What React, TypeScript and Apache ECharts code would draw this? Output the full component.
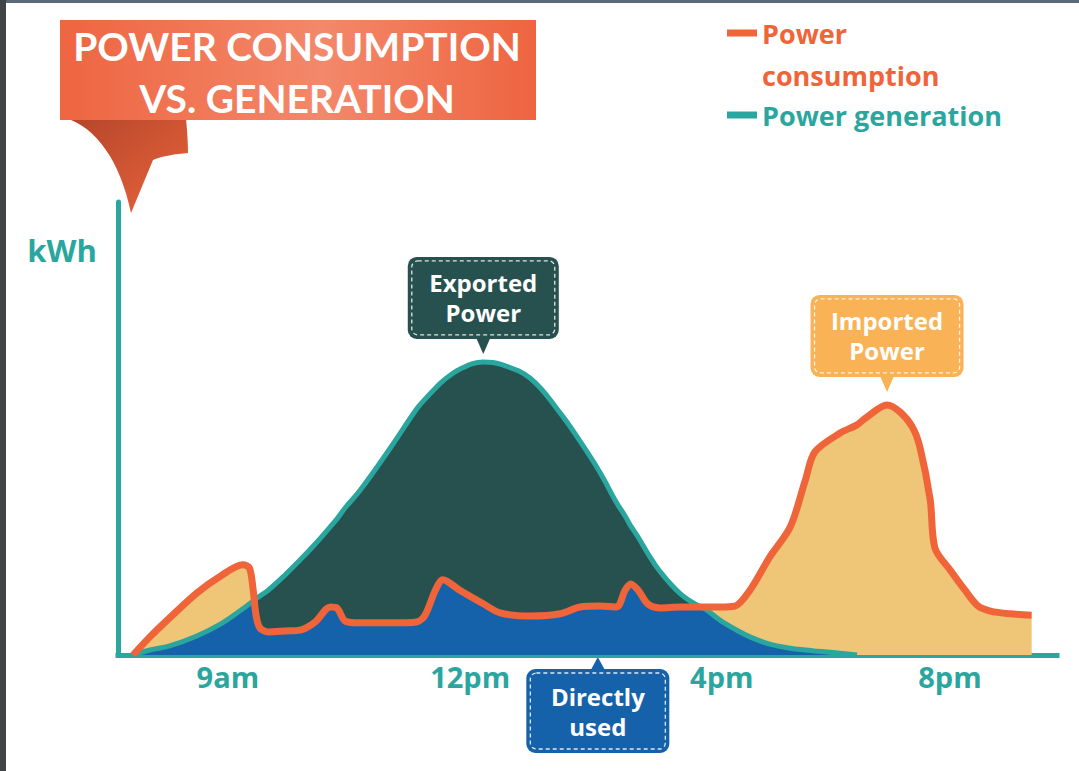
import React, { useEffect, useRef } from "react";
import * as echarts from "echarts";

// ---- data (x = relative time position along the day, y = kWh, arbitrary units) ----
const positions = [1.6, 3.4, 5.5, 8.4, 10.9, 13.3, 14.0, 14.4, 14.7, 15.1, 16.0, 17.8, 19.4, 21.0, 22.6, 23.3, 24.2, 25.8, 29.0, 31.8, 32.7, 33.8, 34.6, 36.4, 38.9, 40.7, 43.9, 47.1, 49.2, 51.3, 53.1, 54.0, 54.6, 55.4, 56.4, 57.7, 59.9, 62.0, 62.5, 64.1, 65.7, 67.3, 69.4, 71.6, 73.2, 74.2, 76.9, 78.7, 79.6, 81.9, 83.3, 84.6, 85.4, 86.5, 87.0, 88.6, 90.2, 91.6, 92.9, 95.0, 97.3];
const consumption = [0, 4.0, 8.2, 13.7, 17.4, 19.9, 19.2, 14.3, 8.8, 6.0, 5.1, 5.3, 5.5, 7.3, 10.6, 10.4, 7.5, 7.1, 7.1, 7.3, 8.8, 14.3, 16.6, 14.3, 11.3, 9.3, 8.6, 9.1, 10.6, 10.8, 10.6, 14.3, 15.7, 14.3, 11.3, 10.4, 10.6, 10.6, 10.6, 10.6, 10.8, 14.3, 21.6, 28.3, 38.6, 44.8, 49.0, 50.8, 52.3, 55.2, 53.6, 50.3, 45.9, 34.2, 23.6, 18.8, 14.3, 10.8, 9.7, 9.1, 8.8];
const generation: (number | null)[] = [0, 1.1, 2.0, 4.2, 6.8, 10.2, 11.3, 11.9, 12.4, 13.0, 14.3, 17.7, 21.0, 24.5, 28.3, 30.0, 32.5, 36.4, 45.7, 54.3, 56.5, 58.9, 60.5, 63.1, 64.7, 64.2, 61.1, 53.4, 47.2, 40.4, 33.6, 30.7, 28.5, 26.0, 22.5, 18.5, 13.5, 10.6, 10.2, 7.7, 5.7, 4.0, 2.4, 1.5, 1.1, 0.9, 0.4, 0, null, null, null, null, null, null, null, null, null, null, null, null, null];
const timeTicks = [11.7, 37.5, 64.3, 88.6];
const timeLabels = ["9am", "12pm", "4pm", "8pm"];
const seriesNames = ["Power consumption", "Power generation"];
const calloutTexts = ["Exported\nPower", "Imported\nPower", "Directly\nused"];
const directlyUsedAt = [51.1, 0];

const C = {
  teal: "#2AA69F",
  orange: "#F0643A",
  darkGreen: "#27514F",
  blue: "#1662AA",
  yellow: "#EFC578",
  importBox: "#FAB256",
};

let shapeRegistered = false;
function registerShapes() {
  if (shapeRegistered) return;
  shapeRegistered = true;
  echarts.graphic.registerShape(
    "titleTail",
    echarts.graphic.extendPath(
      "M66,118 C96,128 120,160 131,213 L153,160 C163,156 175,154 188,153 C188,140 187,130 186,118 Z",
      {}
    )
  );
}

function callout(cx: number, tipY: number, dir: "down" | "up", w: number, h: number, fill: string, text: string) {
  const boxTop = dir === "down" ? tipY - 15 - h : tipY + 12;
  const boxBottom = boxTop + h;
  const x0 = cx - w / 2;
  const tri =
    dir === "down"
      ? [[cx - 7, boxBottom - 1], [cx + 7, boxBottom - 1], [cx, tipY]]
      : [[cx - 7, boxTop + 1], [cx + 7, boxTop + 1], [cx, tipY]];
  return {
    type: "group",
    children: [
      { type: "polygon", shape: { points: tri }, style: { fill } },
      { type: "rect", shape: { x: x0, y: boxTop, width: w, height: h, r: 9 }, style: { fill } },
      {
        type: "rect",
        shape: { x: x0 + 4, y: boxTop + 4, width: w - 8, height: h - 8, r: 6 },
        style: { fill: "none", stroke: "rgba(255,255,255,0.85)", lineWidth: 1.3, lineDash: [4, 3] },
      },
      {
        type: "text",
        style: {
          text,
          x: cx,
          y: boxTop + h / 2,
          align: "center",
          verticalAlign: "middle",
          fill: "#fff",
          fontSize: 24,
          fontWeight: "bold",
          fontFamily: "Open Sans",
          lineHeight: 30,
        },
      },
    ],
  };
}

export default function App() {
  const ref = useRef<HTMLDivElement>(null);
  useEffect(() => {
    document.body.style.margin = "0";
    registerShapes();
    const chart = echarts.init(ref.current!, null, { renderer: "svg" });

    const consData = positions.map((x, i) => [x, consumption[i]]);
    const genData = positions
      .map((x, i) => (generation[i] == null ? null : [x, generation[i] as number]))
      .filter((d) => d !== null);
    const minData = positions
      .map((x, i) => (generation[i] == null ? null : [x, Math.min(consumption[i], generation[i] as number)]))
      .filter((d) => d !== null);

    const labelFont = { fontFamily: "Open Sans", fontWeight: "bold" as const };

    chart.setOption({
      animation: false,
      backgroundColor: "#fff",
      grid: { left: 118, right: 22, top: 202, bottom: 116 },
      xAxis: {
        type: "value",
        min: 0,
        max: 100,
        axisLine: { show: true, lineStyle: { color: C.teal, width: 5, cap: "square" } },
        axisTick: { show: false },
        splitLine: { show: false },
        axisLabel: {
          customValues: timeTicks,
          formatter: (v: number) => timeLabels[timeTicks.indexOf(v)] ?? "",
          color: C.teal,
          fontSize: 29,
          margin: 7,
          ...labelFont,
        },
      },
      yAxis: {
        type: "value",
        min: 0,
        max: 100,
        axisLine: { show: true, lineStyle: { color: C.teal, width: 5 } },
        axisTick: { show: false },
        axisLabel: { show: false },
        splitLine: { show: false },
      },
      legend: [
        {
          data: [{ name: seriesNames[0], textStyle: { color: C.orange } }],
          formatter: () => "\nPower\nconsumption",
          left: 727,
          top: -30,
          padding: 0,
          icon: "rect",
          itemWidth: 30,
          itemHeight: 7,
          selectedMode: false,
          textStyle: { fontSize: 27, lineHeight: 42, ...labelFont },
        },
        {
          data: [{ name: seriesNames[1], textStyle: { color: C.teal } }],
          left: 727,
          top: 94,
          padding: 0,
          icon: "rect",
          itemWidth: 30,
          itemHeight: 7,
          selectedMode: false,
          textStyle: { fontSize: 27, lineHeight: 42, ...labelFont },
        },
      ],
      series: [
        {
          name: "Imported power",
          type: "line",
          data: consData,
          smooth: 0.3,
          symbol: "none",
          silent: true,
          lineStyle: { width: 0 },
          areaStyle: { color: C.yellow, opacity: 1 },
        },
        {
          name: "Exported power",
          type: "line",
          data: genData,
          smooth: 0.4,
          symbol: "none",
          silent: true,
          lineStyle: { width: 0 },
          areaStyle: { color: C.darkGreen, opacity: 1 },
        },
        {
          name: "Directly used",
          type: "line",
          data: minData,
          smooth: 0.3,
          symbol: "none",
          silent: true,
          lineStyle: { width: 0 },
          areaStyle: { color: C.blue, opacity: 1 },
        },
        {
          name: seriesNames[1],
          type: "line",
          data: genData,
          smooth: 0.4,
          symbol: "none",
          color: C.teal,
          lineStyle: { color: C.teal, width: 5 },
        },
        {
          name: seriesNames[0],
          type: "line",
          data: consData,
          smooth: 0.3,
          symbol: "none",
          color: C.orange,
          lineStyle: { color: C.orange, width: 7, join: "round" },
        },
      ],
    });

    // callouts anchored to the data
    const genVals = generation.map((g) => (g == null ? -1 : g));
    const gi = genVals.indexOf(Math.max(...genVals));
    const ci = consumption.indexOf(Math.max(...consumption));
    const pGen = chart.convertToPixel({ gridIndex: 0 }, [positions[gi], generation[gi] as number]) as number[];
    const pCons = chart.convertToPixel({ gridIndex: 0 }, [positions[ci], consumption[ci]]) as number[];
    const pDir = chart.convertToPixel({ gridIndex: 0 }, directlyUsedAt) as number[];

    chart.setOption({
      graphic: [
        { type: "rect", shape: { x: 0, y: 0, width: 1079, height: 3 }, style: { fill: "#5a6878" } },
        { type: "rect", shape: { x: 0, y: 0, width: 6, height: 771 }, style: { fill: "#3f4449" } },
        {
          type: "titleTail",
          x: 0,
          y: 0,
          style: {
            fill: {
              type: "linear", x: 0, y: 0, x2: 1, y2: 1,
              colorStops: [{ offset: 0, color: "#B4452A" }, { offset: 1, color: "#E9643C" }],
            },
          },
        },
        {
          type: "rect",
          shape: { x: 60, y: 20, width: 476, height: 100 },
          style: {
            fill: {
              type: "linear", x: 0, y: 0, x2: 1, y2: 0,
              colorStops: [
                { offset: 0, color: "#EE6541" },
                { offset: 0.55, color: "#F3886A" },
                { offset: 1, color: "#EE6440" },
              ],
            },
          },
        },
        {
          type: "text",
          style: {
            text: "POWER CONSUMPTION",
            x: 297, y: 46, align: "center", verticalAlign: "middle",
            fill: "#fff", fontSize: 39, fontWeight: "bold", fontFamily: "Lato",
          },
        },
        {
          type: "text",
          style: {
            text: "VS. GENERATION",
            x: 297, y: 98, align: "center", verticalAlign: "middle",
            fill: "#fff", fontSize: 39, fontWeight: "bold", fontFamily: "Lato",
          },
        },
        {
          type: "text",
          style: {
            text: "kWh",
            x: 62, y: 250, align: "center", verticalAlign: "middle",
            fill: C.teal, fontSize: 31, fontWeight: "bold", fontFamily: "Open Sans",
          },
        },
        callout(pGen[0], pGen[1] - 8, "down", 151, 82, C.darkGreen, calloutTexts[0]),
        callout(pCons[0], pCons[1] - 13, "down", 153, 82, C.importBox, calloutTexts[1]),
        callout(pDir[0], pDir[1] + 2, "up", 143, 84, C.blue, calloutTexts[2]),
      ],
    });

    return () => chart.dispose();
  }, []);
  return <div ref={ref} style={{ width: 1079, height: 771, background: "#fff" }} />;
}
